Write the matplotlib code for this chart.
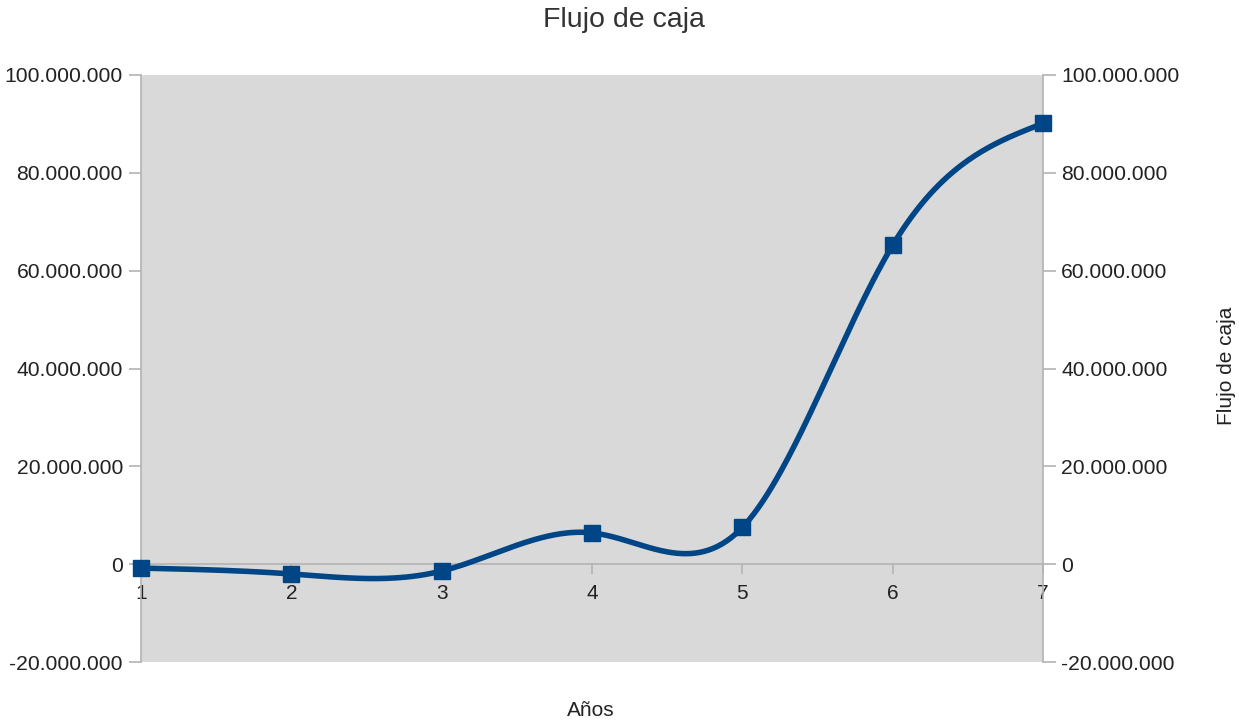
import numpy as np
import matplotlib.pyplot as plt
from matplotlib.ticker import FuncFormatter

# datos
anios = [1, 2, 3, 4, 5, 6, 7]
flujo = [-0.8e6, -2.0e6, -1.4e6, 6.4e6, 7.5e6, 65.2e6, 90.1e6]
y_ticks = [-20e6, 0, 20e6, 40e6, 60e6, 80e6, 100e6]

AZUL = '#004586'
GRIS = '#b3b3b3'
TXT = '#222222'


def spline_natural(x, y, n=400):
    # spline cubico natural (como la linea suavizada de LibreOffice)
    x = np.asarray(x, float)
    y = np.asarray(y, float)
    k = len(x)
    h = np.diff(x)
    A = np.zeros((k, k))
    b = np.zeros(k)
    A[0, 0] = A[-1, -1] = 1
    for i in range(1, k - 1):
        A[i, i - 1] = h[i - 1]
        A[i, i] = 2 * (h[i - 1] + h[i])
        A[i, i + 1] = h[i]
        b[i] = 6 * ((y[i + 1] - y[i]) / h[i] - (y[i] - y[i - 1]) / h[i - 1])
    M = np.linalg.solve(A, b)
    xs = np.linspace(x[0], x[-1], n)
    idx = np.clip(np.searchsorted(x, xs) - 1, 0, k - 2)
    x0, x1 = x[idx], x[idx + 1]
    hh = x1 - x0
    t0, t1 = x1 - xs, xs - x0
    ys = (M[idx] * t0**3 / (6 * hh) + M[idx + 1] * t1**3 / (6 * hh)
          + (y[idx] / hh - M[idx] * hh / 6) * t0
          + (y[idx + 1] / hh - M[idx + 1] * hh / 6) * t1)
    return xs, ys


def miles(v, pos):
    return f'{int(round(v)):,}'.replace(',', '.')


plt.rcParams['font.family'] = ['Liberation Sans', 'DejaVu Sans']

fig = plt.figure(figsize=(12.39, 7.2), dpi=100)
ax = fig.add_axes([141 / 1239, 58 / 720, 902 / 1239, 587 / 720])
ax.set_facecolor('#d9d9d9')

xs, ys = spline_natural(anios, flujo)
ax.plot(xs, ys, color=AZUL, lw=4, solid_capstyle='round', zorder=3, clip_on=False)
ax.plot(anios, flujo, 's', color=AZUL, ms=12, zorder=4, clip_on=False)

ax.set_xlim(1, 7)
ax.set_ylim(-20e6, 100e6)
ax.set_yticks(y_ticks)
ax.yaxis.set_major_formatter(FuncFormatter(miles))
ax.set_xticks(anios)

# eje X en y = 0
ax.spines['bottom'].set_position(('data', 0))
ax.spines['top'].set_visible(False)
for s in ['bottom', 'left', 'right']:
    ax.spines[s].set_color(GRIS)
    ax.spines[s].set_linewidth(1.2)

ax.tick_params(axis='x', direction='out', length=7, width=1.2, color=GRIS,
               labelsize=15, labelcolor=TXT, pad=7)
ax.tick_params(axis='y', direction='out', length=9, width=1.2, color=GRIS,
               labelsize=15.2, labelcolor=TXT, pad=4, right=True, labelright=True)

fig.text(624 / 1239, 1 - 20 / 720, 'Flujo de caja', fontsize=20.5, color='#333333',
         ha='center', va='center')
fig.text(591 / 1239, 1 - 710 / 720, 'Años', fontsize=15, color=TXT,
         ha='center', va='center')
fig.text(1226 / 1239, 1 - 366 / 720, 'Flujo de caja', fontsize=15, color=TXT,
         ha='center', va='center', rotation=90)

fig.savefig('out.png', dpi=100)
